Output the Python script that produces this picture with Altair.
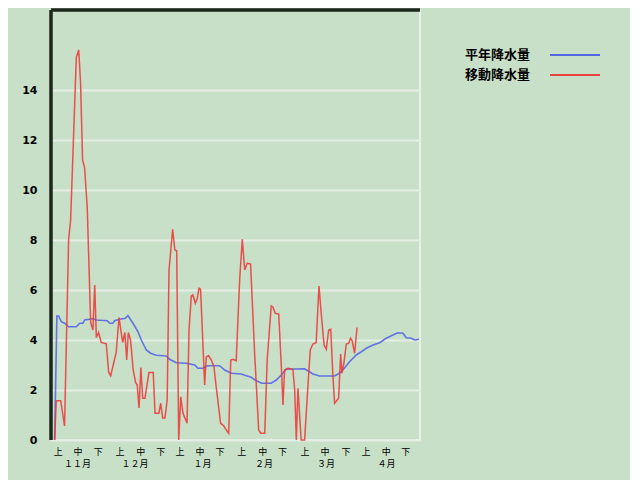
import altair as alt
import pandas as pd

# 移動降水量 (red) : day index (Nov 1 = 0) and value
red_day = [0, 0.8, 3.0, 4.9, 6.9, 7.9, 10.7, 11.9, 12.8, 13.8, 14.8, 16.1, 17.8, 18.9, 19.8, 20.6, 21.7, 23.0,
           25.5, 26.7, 27.7, 30.4, 31.8, 33.6, 34.7, 35.6, 36.4, 37.5, 38.8, 40.0, 40.8, 41.7, 42.6, 43.5, 44.6,
           46.6, 48.7, 49.6, 51.5, 52.4, 53.4, 54.5, 55.6, 56.5, 58.3, 59.4, 60.3, 61.3, 62.3, 63.4, 65.4, 66.4,
           67.5, 68.3, 69.5, 70.5, 71.3, 72.1, 74.1, 74.9, 76.1, 77.4, 78.7, 79.8, 82.0, 83.6, 84.8, 86.0, 87.0,
           88.1, 89.7, 91.4, 92.7, 93.9, 95.2, 96.8, 98.8, 100.8, 101.8, 103.8, 105.0, 107.0, 107.8, 109.0, 110.7,
           112.0, 112.8, 113.6, 115.3, 117.7, 118.6, 119.4, 120.2, 121.8, 123.5, 125.1, 126.3, 127.6, 129.2, 130.6,
           131.7, 133.1, 134.2, 135.4, 136.4, 137.5, 138.3, 140.3, 141.3, 141.9, 142.9, 144.1, 145.3, 146.2, 147.0,
           148.2, 149.4]
red_val = [0, 1.57, 1.57, 0.56, 8.0, 8.8, 15.3, 15.6, 14.3, 11.2, 10.9, 9.3, 4.7, 4.4, 6.2, 4.1, 4.3, 3.9,
           3.85, 2.7, 2.57, 3.5, 4.9, 3.9, 4.3, 3.2, 4.3, 4.0, 2.8, 2.3, 2.2, 1.28, 2.9, 1.67, 1.67,
           2.7, 2.7, 1.07, 1.07, 1.47, 0.88, 0.88, 1.6, 6.8, 8.43, 7.6, 7.57, 0, 1.73, 1.07, 0.67, 4.4,
           5.76, 5.8, 5.47, 5.67, 6.07, 6.03, 2.2, 3.33, 3.37, 3.2, 2.93, 2.13, 0.67, 0.56, 0.4, 0.27, 3.2,
           3.23, 3.17, 6.4, 8.03, 6.8, 7.07, 7.04, 3.47, 0.4, 0.27, 0.27, 3.2, 5.36, 5.33, 5.07, 5.04,
           2.93, 1.4, 2.8, 2.87, 2.83, 2.0, 0, 2.07, 0, 0, 2.13, 3.6, 3.84, 3.89, 6.16,
           5.07, 3.8, 3.63, 4.4, 4.43, 2.53, 1.47, 1.67, 3.44, 2.67, 3.07, 3.84, 3.87, 4.07, 3.97,
           3.47, 4.5]

# 平年降水量 (blue)
blue_day = [0, 1.1, 2.0, 3.3, 4.9, 6.9, 10.7, 12.4, 14.0, 14.8, 18.9, 20.6, 26.0, 27.2, 28.8, 29.6, 32.1, 34.9,
            36.2, 38.7, 41.2, 42.8, 45.3, 47.4, 50.2, 55.1, 56.8, 60.1, 65.0, 69.2, 70.8, 73.3, 75.4, 81.5, 84.0,
            87.3, 92.2, 93.9, 97.1, 99.6, 102.4, 107.0, 109.5, 112.0, 114.4, 123.5, 125.1, 127.6, 130.9, 138.3,
            140.0, 142.4, 145.7, 149.0, 151.5, 154.0, 157.3, 160.6, 163.8, 167.1, 169.6, 172.1, 173.7, 176.2,
            177.9, 180.0]
blue_val = [0, 4.96, 4.96, 4.73, 4.67, 4.53, 4.53, 4.67, 4.67, 4.8, 4.85, 4.8, 4.77, 4.67, 4.67, 4.77, 4.83, 4.87,
            4.98, 4.67, 4.33, 4.0, 3.6, 3.47, 3.39, 3.36, 3.23, 3.09, 3.07, 3.0, 2.87, 2.87, 2.97, 2.97, 2.8,
            2.67, 2.64, 2.59, 2.51, 2.37, 2.27, 2.27, 2.4, 2.6, 2.83, 2.85, 2.77, 2.64, 2.56, 2.56,
            2.64, 2.8, 3.13, 3.4, 3.53, 3.67, 3.8, 3.89, 4.07, 4.2, 4.29, 4.27, 4.09, 4.07,
            4.0, 4.03]

# x-axis labels
jun_pos = [1.8, 11.6, 21.5, 32.3, 42.5, 52.4, 61.9, 71.8, 81.7, 92.4, 102.8, 112.6, 123.7, 133.6, 143.9,
           153.8, 163.8, 173.4]
jun_lab = ["上", "中", "下"] * 6
month_pos = [11.3, 39.7, 73.0, 103.4, 134.0, 164.0]
month_lab = ["１１月", "１２月", "１月", "２月", "３月", "４月"]

y_ticks = [0, 2, 4, 6, 8, 10, 12, 14]
legend_labels = ["平年降水量", "移動降水量"]
legend_colors = ["#5566e6", "#e84444"]

W, H = 369, 430
FONT = "Noto Sans CJK JP"

xscale = alt.Scale(domain=[-1.8, 180.5], nice=False, zero=False)
yscale = alt.Scale(domain=[0, 17.2], nice=False)

red_df = pd.DataFrame({"day": red_day, "val": red_val})
blue_df = pd.DataFrame({"day": blue_day, "val": blue_val})

blue = alt.Chart(blue_df).mark_line(color="#5566e6", strokeWidth=1.6, opacity=0.9).encode(
    x=alt.X("day:Q", scale=xscale, axis=None),
    y=alt.Y("val:Q", scale=yscale,
            axis=alt.Axis(values=y_ticks, grid=True, gridColor="#e4eee4", gridWidth=2,
                          ticks=False, domain=False, title=None, labelFont="DejaVu Sans",
                          labelFontWeight="bold", labelFontSize=11, labelColor="#000000",
                          labelPadding=14)),
)
red = alt.Chart(red_df).mark_line(color="#ee3434", strokeWidth=1.5, opacity=0.85).encode(
    x=alt.X("day:Q", scale=xscale, axis=None),
    y=alt.Y("val:Q", scale=yscale),
)

jun_df = pd.DataFrame({"pos": jun_pos, "lab": jun_lab})
jun = alt.Chart(jun_df).mark_text(font=FONT, fontSize=9, color="#000000", baseline="middle").encode(
    x=alt.X("pos:Q", scale=xscale, axis=None), y=alt.value(H + 12), text="lab:N")
mon_df = pd.DataFrame({"pos": month_pos, "lab": month_lab})
mon = alt.Chart(mon_df).mark_text(font=FONT, fontSize=9, color="#000000", baseline="middle").encode(
    x=alt.X("pos:Q", scale=xscale, axis=None), y=alt.value(H + 24), text="lab:N")

left_border = alt.Chart(pd.DataFrame({"a": [0]})).mark_rule(color="#1c261c", strokeWidth=3.5).encode(
    x=alt.value(0), y=alt.value(0), y2=alt.value(H))
top_border = alt.Chart(pd.DataFrame({"a": [0]})).mark_rule(color="#1c261c", strokeWidth=3.5).encode(
    x=alt.value(0), x2=alt.value(W), y=alt.value(0))

legend_layers = []
for i, (lab, col) in enumerate(zip(legend_labels, legend_colors)):
    yy = 45 + 20 * i
    legend_layers.append(
        alt.Chart(pd.DataFrame({"t": [lab]})).mark_text(
            font=FONT, fontSize=13, fontWeight="bold", color="#000000", align="left", baseline="middle"
        ).encode(x=alt.value(414), y=alt.value(yy), text="t:N"))
    legend_layers.append(
        alt.Chart(pd.DataFrame({"t": [lab]})).mark_rule(color=col, strokeWidth=2).encode(
            x=alt.value(499), x2=alt.value(549), y=alt.value(yy)))

chart = alt.layer(blue, red, jun, mon, left_border, top_border, *legend_layers).properties(
    width=W, height=H,
    padding={"left": 43, "top": 2, "right": 210, "bottom": 40},
    autosize="none",
    background="#c8e0c8",
).configure_view(stroke="#e8f0e8", strokeWidth=2, fill="#c8e0c8")

chart.save("out.html", embed_options={"renderer": "svg", "actions": False})
